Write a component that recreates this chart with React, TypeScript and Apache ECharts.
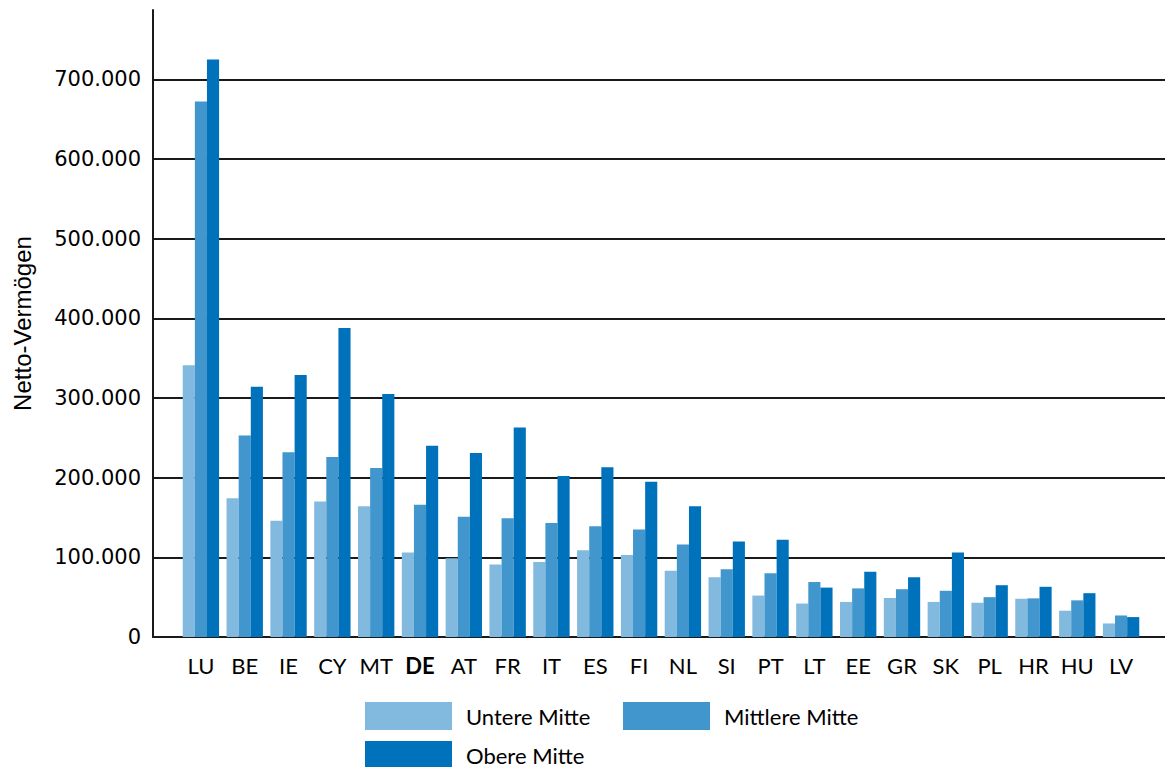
import React, { useEffect, useRef } from "react";
import * as echarts from "echarts";

const countries = ["LU", "BE", "IE", "CY", "MT", "DE", "AT", "FR", "IT", "ES", "FI", "NL", "SI", "PT", "LT", "EE", "GR", "SK", "PL", "HR", "HU", "LV"];
const untereMitte = [341000, 174000, 146000, 170000, 164000, 106000, 99000, 91000, 94000, 109000, 103000, 83000, 75000, 52000, 42000, 44000, 49000, 44000, 43000, 48000, 33000, 17000];
const mittlereMitte = [672000, 253000, 232000, 226000, 212000, 166000, 151000, 149000, 143000, 139000, 135000, 116000, 85000, 80000, 69000, 61000, 60000, 58000, 50000, 48500, 46000, 27000];
const obereMitte = [725000, 314000, 329000, 388000, 305000, 240000, 231000, 263000, 202000, 213000, 195000, 164000, 120000, 122000, 62000, 82000, 75000, 106000, 65000, 63000, 55000, 25000];
const seriesNames = ["Untere Mitte", "Mittlere Mitte", "Obere Mitte"];
const colors = ["#82BADF", "#4196CD", "#0071BB"];
const yMax = 787000;
const yInterval = 100000;
const yTitle = "Netto-Vermögen";

const fmt = (v: number) => String(v).replace(/\B(?=(\d{3})+(?!\d))/g, ".");

export default function App() {
  const ref = useRef<HTMLDivElement>(null);
  useEffect(() => {
    document.body.style.margin = "0";
    if (!ref.current) return;
    const chart = echarts.init(ref.current, undefined, { renderer: "svg" });
    const catFont = "Lato, 'Open Sans', sans-serif";
    const legendBase = (name: string, left: number, top: number) => ({
      data: [name],
      left,
      top,
      padding: 0,
      icon: "rect",
      itemWidth: 87,
      itemHeight: 28,
      selectedMode: false,
      textStyle: { fontFamily: catFont, fontSize: 22, color: "#000", padding: [0, 0, 0, 9] },
    });
    chart.setOption({
      animation: false,
      backgroundColor: "#fff",
      grid: [
        { left: 179, right: 22, top: 10, bottom: 130 },
        { left: 153, right: 0, top: 10, bottom: 130 },
      ],
      legend: [
        legendBase(seriesNames[0], 365, 702),
        legendBase(seriesNames[1], 623, 702),
        legendBase(seriesNames[2], 365, 741),
      ],
      xAxis: [
        {
          type: "category",
          gridIndex: 0,
          data: countries,
          axisLine: { show: false },
          axisTick: { show: false },
          axisLabel: {
            margin: 17,
            fontFamily: catFont,
            fontSize: 22,
            color: "#000",
            interval: 0,
            formatter: (v: string) => (v === "DE" ? "{b|DE}" : v),
            rich: { b: { fontFamily: catFont, fontSize: 22, fontWeight: "bold", color: "#000" } },
          },
        },
        {
          type: "category",
          gridIndex: 1,
          data: [""],
          axisLine: { show: true, lineStyle: { color: "#1a1a1a", width: 2 } },
          axisTick: { show: false },
          axisLabel: { show: false },
        },
      ],
      yAxis: [
        {
          type: "value",
          gridIndex: 0,
          min: 0,
          max: yMax,
          interval: yInterval,
          axisLine: { show: false },
          axisTick: { show: false },
          axisLabel: { show: false },
          splitLine: { show: false },
        },
        {
          type: "value",
          gridIndex: 1,
          min: 0,
          max: yMax,
          interval: yInterval,
          name: yTitle,
          nameLocation: "middle",
          nameGap: 119,
          nameTextStyle: { fontFamily: "'Liberation Sans Narrow', 'Liberation Sans', sans-serif", fontSize: 24, color: "#000" },
          axisLine: { show: true, lineStyle: { color: "#1a1a1a", width: 2 } },
          axisTick: { show: false },
          axisLabel: {
            margin: 12,
            fontFamily: "'DejaVu Sans', sans-serif",
            fontSize: 21,
            color: "#000",
            showMaxLabel: false,
            formatter: (v: number) => (v % yInterval === 0 ? fmt(v) : ""),
          },
          splitLine: { show: true, showMaxLine: false, showMinLine: false, lineStyle: { color: "#1a1a1a", width: 2 } },
        },
      ],
      series: [untereMitte, mittlereMitte, obereMitte].map((d, i) => ({
        name: seriesNames[i],
        type: "bar",
        xAxisIndex: 0,
        yAxisIndex: 0,
        data: d,
        barGap: "0%",
        barCategoryGap: "17%",
        itemStyle: { color: colors[i] },
      })),
    });
    return () => chart.dispose();
  }, []);
  return <div ref={ref} style={{ width: 1165, height: 767 }} />;
}
